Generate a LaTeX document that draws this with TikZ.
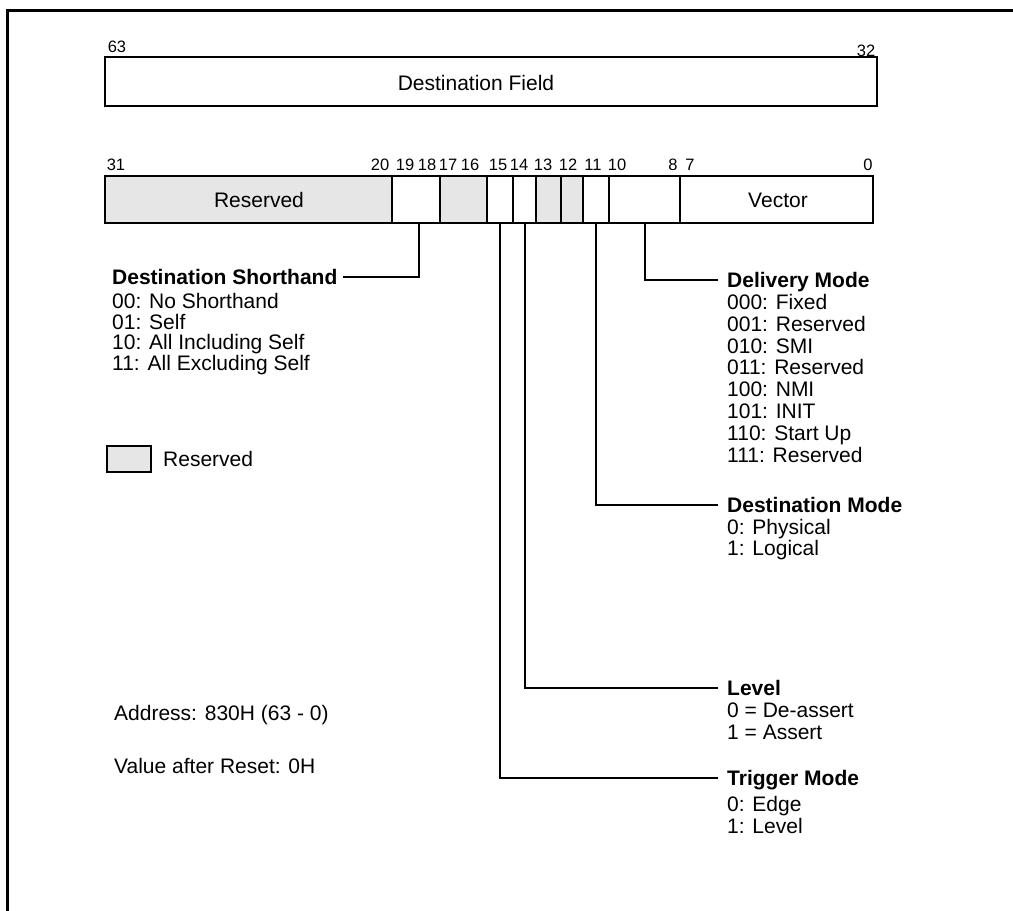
\documentclass[tikz,border=0pt]{standalone}
\usepackage{fontspec}
\setmainfont{Liberation Sans}
\definecolor{resgrey}{HTML}{E6E6E6}
\begin{document}
\begin{tikzpicture}[x=1pt,y=-1pt,
  cell/.style={draw, line width=2pt, inner sep=0pt, outer sep=0pt, anchor=north west, minimum height=47pt},
  resv/.style={cell, fill=resgrey},
  bitlbl/.style={font=\fontsize{16.5}{16.5}\selectfont, inner sep=0pt, text height=12pt, text depth=0pt},
  head/.style={font=\fontsize{21}{21}\selectfont\bfseries, anchor=west, inner sep=0pt, text height=15pt, text depth=0pt},
  item/.style={font=\fontsize{21}{21}\selectfont, anchor=west, inner sep=0pt, text height=15pt, text depth=0pt},
  lead/.style={line width=2pt}]
\useasboundingbox (0,0) rectangle (1013,911);
% frame
\draw[line width=3pt] (1013,10) -- (7,10) -- (7,911);
% destination field
\node[cell, minimum width=772pt, minimum height=49pt] (df) at (105,57) {};
\node[item, anchor=center] (dftext) at (476,83) {Destination Field};
\node[bitlbl] (b63) at (117,46) {63};
\node[bitlbl] (b32) at (866,50) {32};
% bit labels of the low word
\foreach \n/\x in {31/116,20/380,19/405,18/427,17/448,16/470,15/498,14/519,13/543,12/568,11/593,10/617,8/673,7/690,0/868}
  \node[bitlbl] (bl\n) at (\x,164) {\n};
% cells
\node[resv, minimum width=287pt] (c3120) at (105,176) {};
\node[cell, minimum width=48pt] (c1918) at (392,176) {};
\node[resv, minimum width=47pt] (c1716) at (440,176) {};
\node[cell, minimum width=26pt] (c15) at (487,176) {};
\node[cell, minimum width=23pt] (c14) at (513,176) {};
\node[resv, minimum width=25pt] (c13) at (536,176) {};
\node[resv, minimum width=22pt] (c12) at (561,176) {};
\node[cell, minimum width=26pt] (c11) at (583,176) {};
\node[cell, minimum width=71pt] (c108) at (609,176) {};
\node[cell, minimum width=193pt] (c70) at (680,176) {};
\node[item, anchor=center] (rtext) at (259,199.5) {Reserved};
\node[item, anchor=center] (vtext) at (778,199.5) {Vector};
% destination shorthand
\node[head] (dsh) at (112,277) {Destination Shorthand};
\foreach \t [count=\i] in {00: No Shorthand,01: Self,10: All Including Self,11: All Excluding Self}
  \node[item] (dsh\i) at (112,{280.5+\i*20.5}) {\t};
\draw[lead] ([xshift=3pt]c1918.south) |- ([xshift=5pt]dsh.east);
% legend
\node[resv, minimum width=44pt, minimum height=26pt] (leg) at (107,446) {};
\node[item] (legtext) at (163,459) {Reserved};
% delivery mode
\node[head] (dm) at (727,280) {Delivery Mode};
\foreach \t [count=\i] in {000: Fixed,001: Reserved,010: SMI,011: Reserved,100: NMI,101: INIT,110: Start Up,111: Reserved}
  \node[item] (dm\i) at (727,{280+\i*21.85}) {\t};
\draw[lead] (c108.south) |- ([xshift=-9pt]dm.west);
% destination mode
\node[head] (dsm) at (727,505) {Destination Mode};
\foreach \t [count=\i] in {0: Physical,1: Logical}
  \node[item] (dsm\i) at (727,{505+\i*21.5}) {\t};
\draw[lead] (c11.south) |- ([xshift=-9pt]dsm.west);
% level
\node[head] (lv) at (727,688) {Level};
\foreach \t [count=\i] in {0 = De-assert,1 = Assert}
  \node[item] (lv\i) at (727,{688+\i*22}) {\t};
\draw[lead] (c14.south) |- ([xshift=-9pt]lv.west);
% trigger mode
\node[head] (tm) at (727,778) {Trigger Mode};
\node[item] (tm1) at (727,804) {0: Edge};
\node[item] (tm2) at (727,826) {1: Level};
\draw[lead] (c15.south) |- ([xshift=-9pt]tm.west);
% address
\node[item] (addr) at (114,713) {Address: 830H (63 - 0)};
\node[item] (reset) at (114,766) {Value after Reset: 0H};
\end{tikzpicture}
\end{document}
